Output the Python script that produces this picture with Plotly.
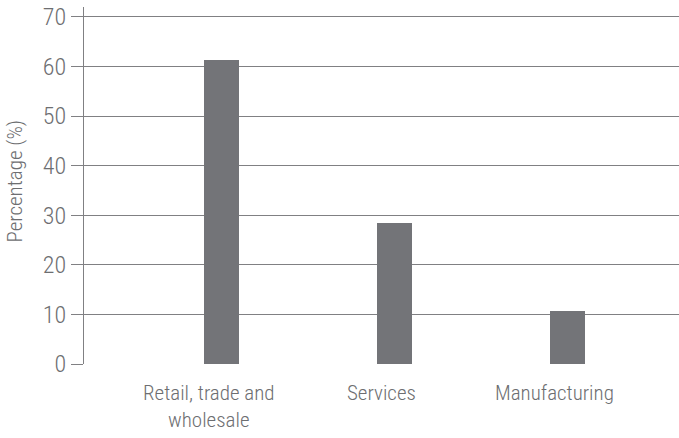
import plotly.graph_objects as go

categories = ["Retail, trade and<br>wholesale", "Services", "Manufacturing"]
values = [61.3, 28.5, 10.6]
y_ticks = [0, 10, 20, 30, 40, 50, 60, 70]
y_title = "Percentage (%)"

FONT = "Roboto Condensed, DejaVu Sans Condensed, Liberation Sans Narrow, sans-serif"
TXT = "#6d6e71"
LINE = "#808083"

L, R, T, B = 84, 0, 7, 74
W, H = 679, 438

fig = go.Figure()
fig.add_trace(go.Bar(
    x=list(range(len(categories))), y=values,
    width=0.2, marker=dict(color="#737478", line=dict(width=0)),
))

for i, c in enumerate(categories):
    fig.add_annotation(x=i, y=0, xref="x", yref="y", text=c, showarrow=False,
                       yanchor="top", xanchor="center", yshift=-15, xshift=-13,
                       font=dict(family=FONT, size=21, color=TXT, weight=300),
                       align="center")

fig.add_annotation(x=-L / (W - L - R), y=0.5, xref="paper", yref="paper", text=y_title,
                   showarrow=False, textangle=-90, xanchor="left", yanchor="middle",
                   xshift=0, yshift=4,
                   font=dict(family=FONT, size=21, color=TXT, weight=300))

fig.update_layout(
    width=W, height=H,
    margin=dict(l=L, r=R, t=T, b=B, autoexpand=False),
    paper_bgcolor="white", plot_bgcolor="white",
    showlegend=False, bargap=0,
    xaxis=dict(range=[-0.795, 2.645], showticklabels=False, showgrid=False,
               zeroline=False, showline=False, ticks="", automargin=False),
    yaxis=dict(range=[0, 72.0], tickvals=y_ticks, showgrid=True, gridcolor=LINE,
               gridwidth=1, zeroline=False, showline=True, linecolor=LINE,
               linewidth=1, ticks="outside", ticklen=12, tickcolor=LINE,
               tickwidth=1, automargin=False, ticklabeloverflow="allow",
               tickfont=dict(family=FONT, size=24, color=TXT, weight=300)),
)

fig.write_html("out.html", config={"displayModeBar": False},
               post_script="document.body.style.margin='0';")
